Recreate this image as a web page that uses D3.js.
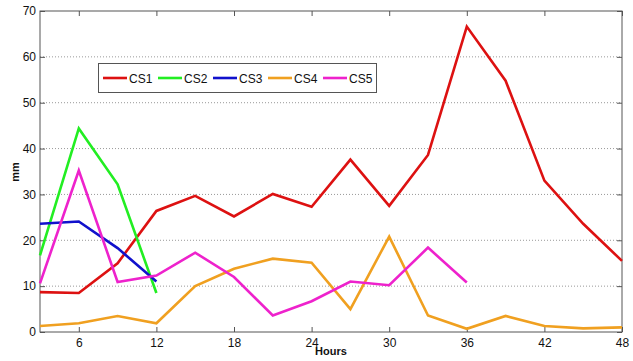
<!DOCTYPE html>
<html>
<head>
<meta charset="utf-8">
<script src="https://cdn.jsdelivr.net/npm/d3@7"></script>
<style>
  html, body { margin: 0; padding: 0; background: #fff; }
  svg { display: block; font-family: "Liberation Sans", Arial, sans-serif; }
</style>
</head>
<body>
<svg id="chart" width="633" height="361"></svg>
<script>
// Rainfall accumulation (mm) per 3-hour step for five case studies
const hours = [3, 6, 9, 12, 15, 18, 21, 24, 27, 30, 33, 36, 39, 42, 45, 48];
const cs1 = [8.7, 8.5, 15.0, 26.4, 29.7, 25.2, 30.1, 27.3, 37.6, 27.5, 38.6, 66.6, 54.8, 33.0, 23.6, 15.5];
const cs2 = [16.7, 44.4, 32.2, 8.5];
const cs3 = [23.6, 24.1, 18.3, 11.0];
const cs4 = [1.3, 1.9, 3.5, 1.9, 10.0, 13.8, 16.0, 15.1, 5.0, 20.8, 3.6, 0.7, 3.5, 1.3, 0.8, 1.0];
const cs5 = [10.6, 35.2, 10.9, 12.3, 17.3, 12.0, 3.6, 6.7, 11.0, 10.2, 18.4, 10.8];

const seriesNames = ["CS1", "CS2", "CS3", "CS4", "CS5"];
const seriesColors = ["#dd1111", "#22ee22", "#1111cc", "#f0a020", "#ee22cc"];
const seriesValues = [cs1, cs2, cs3, cs4, cs5];

const xTicks = [6, 12, 18, 24, 30, 36, 42, 48];
const yTicks = [0, 10, 20, 30, 40, 50, 60, 70];

const svg = d3.select("#chart");
const plot = { left: 40, right: 622, top: 11, bottom: 332 };

const x = d3.scaleLinear().domain([3, 48]).range([plot.left, plot.right]);
const y = d3.scaleLinear().domain([0, 70]).range([plot.bottom, plot.top]);

// dotted horizontal grid
svg.append("g")
  .selectAll("line")
  .data(yTicks.filter(v => v > 0 && v < 70))
  .join("line")
  .attr("x1", plot.left).attr("x2", plot.right)
  .attr("y1", d => y(d)).attr("y2", d => y(d))
  .attr("stroke", "#999")
  .attr("stroke-width", 1)
  .attr("stroke-dasharray", "1,2");

// axes with inward ticks
const axisStyle = g => {
  g.select(".domain").remove();
  g.selectAll(".tick line").attr("stroke", "#555");
  g.selectAll(".tick text").attr("fill", "#111").style("font-size", "12px");
};

svg.append("g")
  .attr("transform", `translate(0,${plot.bottom})`)
  .call(d3.axisBottom(x).tickValues(xTicks).tickFormat(d3.format("d")).tickSizeInner(-5).tickSizeOuter(0).tickPadding(6))
  .call(axisStyle);

svg.append("g")
  .attr("transform", `translate(0,${plot.top})`)
  .call(d3.axisTop(x).tickValues(xTicks).tickSizeInner(-5).tickSizeOuter(0).tickFormat(""))
  .call(axisStyle);

svg.append("g")
  .attr("transform", `translate(${plot.left},0)`)
  .call(d3.axisLeft(y).tickValues(yTicks).tickFormat(d3.format("d")).tickSizeInner(-5).tickSizeOuter(0).tickPadding(4))
  .call(axisStyle);

svg.append("g")
  .attr("transform", `translate(${plot.right},0)`)
  .call(d3.axisRight(y).tickValues(yTicks).tickSizeInner(-5).tickSizeOuter(0).tickFormat(""))
  .call(axisStyle);

// box
svg.append("rect")
  .attr("x", plot.left).attr("y", plot.top)
  .attr("width", plot.right - plot.left).attr("height", plot.bottom - plot.top)
  .attr("fill", "none").attr("stroke", "#555").attr("stroke-width", 1);

// series lines
const line = d3.line()
  .x((d, i) => x(hours[i]))
  .y(d => y(d));

svg.append("g")
  .selectAll("path")
  .data(seriesValues)
  .join("path")
  .attr("d", d => line(d))
  .attr("fill", "none")
  .attr("stroke", (d, i) => seriesColors[i])
  .attr("stroke-width", 2.6)
  .attr("stroke-linejoin", "miter");

// axis titles
svg.append("text")
  .attr("x", 331).attr("y", 355)
  .attr("text-anchor", "middle")
  .style("font-size", "11px").style("font-weight", "bold")
  .attr("fill", "#111")
  .text("Hours");

svg.append("text")
  .attr("transform", "translate(19,172) rotate(-90)")
  .attr("text-anchor", "middle")
  .style("font-size", "11px").style("font-weight", "bold")
  .attr("fill", "#111")
  .text("mm");

// legend
const legend = svg.append("g");
legend.append("rect")
  .attr("x", 98.5).attr("y", 63.5)
  .attr("width", 278).attr("height", 29)
  .attr("fill", "#fff").attr("stroke", "#555").attr("stroke-width", 1);

const legendX = [103, 158, 213, 268, 323];
const items = legend.selectAll("g.item")
  .data(seriesNames)
  .join("g")
  .attr("class", "item")
  .attr("transform", (d, i) => `translate(${legendX[i]},78)`);

items.append("line")
  .attr("x1", 0).attr("x2", 24)
  .attr("stroke", (d, i) => seriesColors[i])
  .attr("stroke-width", 2.6);

items.append("text")
  .attr("x", 26).attr("y", 4.5)
  .style("font-size", "12px")
  .attr("fill", "#111")
  .text(d => d);
</script>
</body>
</html>
